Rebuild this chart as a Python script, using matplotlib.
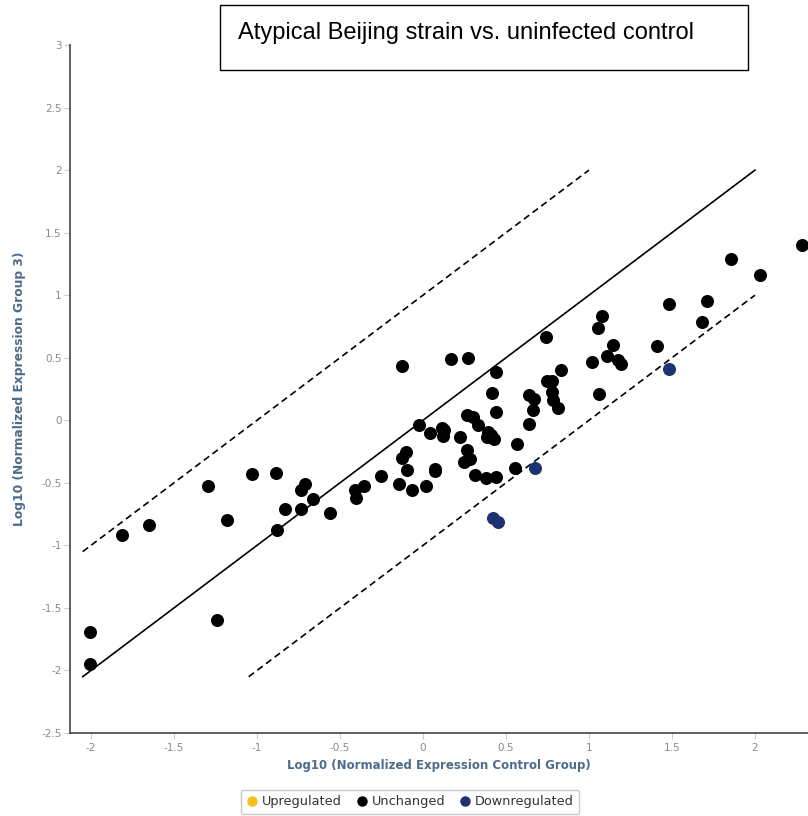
import numpy as np
import matplotlib
matplotlib.use("Agg")
import matplotlib.pyplot as plt
from matplotlib.lines import Line2D
from matplotlib.patches import Rectangle

# punkte ablesen (log10 kontrolle, log10 gruppe 3)
x_unchanged = [2.281, 1.853, 2.03, 1.709, 1.679, 1.484, 1.408, 1.078, 1.052, 1.147,
               1.107, 1.02, 1.173, 1.191, 1.062, 0.833, 0.745, 0.775, 0.779, 0.785,
               0.811, 0.739, 0.442, 0.416, 0.442, 0.639, 0.671, 0.665, 0.637, 0.564,
               0.552, -0.127, 0.167, 0.269, -0.022, 0.042, 0.113, 0.127, 0.118, 0.223,
               0.263, 0.299, 0.333, 0.393, 0.408, 0.428, 0.384, 0.263, 0.283, 0.249,
               0.313, 0.38, 0.44, 0.072, 0.072, -0.094, -0.102, -0.128, -0.253, -0.143,
               -0.068, 0.016, -0.355, -0.408, -0.404, -0.56, -0.66, -0.711, -0.737, -0.737,
               -0.831, -0.881, -0.886, -1.03, -1.297, -1.183, -1.239, -1.651, -1.811, -2.006,
               -2.006]
y_unchanged = [1.40, 1.293, 1.16, 0.955, 0.787, 0.928, 0.592, 0.832, 0.739, 0.605,
               0.512, 0.467, 0.48, 0.453, 0.21, 0.40, 0.315, 0.315, 0.227, 0.165,
               0.099, 0.667, 0.387, 0.216, 0.067, 0.20, 0.171, 0.085, -0.029, -0.192,
               -0.378, 0.435, 0.486, 0.496, -0.035, -0.10, -0.06, -0.08, -0.128, -0.133,
               0.04, 0.027, -0.04, -0.093, -0.12, -0.146, -0.133, -0.235, -0.306, -0.333,
               -0.44, -0.458, -0.453, -0.387, -0.405, -0.40, -0.253, -0.299, -0.448, -0.507,
               -0.56, -0.525, -0.525, -0.56, -0.619, -0.741, -0.627, -0.507, -0.56, -0.707,
               -0.712, -0.88, -0.419, -0.427, -0.523, -0.80, -1.60, -0.835, -0.92, -1.693,
               -1.952]
x_down = [1.48, 0.677, 0.424, 0.454]
y_down = [0.413, -0.379, -0.779, -0.813]

# referenzlinien
x_diag = [-2.05, 2.0]
x_upper = [-2.05, 1.0]
x_lower = [-1.05, 2.0]

x_ticks = [-2, -1.5, -1, -0.5, 0, 0.5, 1, 1.5, 2]
y_ticks = [-2.5, -2, -1.5, -1, -0.5, 0, 0.5, 1, 1.5, 2, 2.5, 3]

col_up = "#f5c21b"
col_unch = "#000000"
col_down = "#1e3270"
lab_col = "#4d6b8c"
tick_col = "#8a8a8a"

fig = plt.figure(figsize=(8.08, 8.16), dpi=100)
ax = fig.add_axes([70/808, 1-733/816, 738/808, 688/816])

ax.plot(x_diag, x_diag, color="black", lw=1.2)
ax.plot(x_upper, np.array(x_upper) + 1, color="black", lw=1.2, ls=(0, (4, 2.5)))
ax.plot(x_lower, np.array(x_lower) - 1, color="black", lw=1.2, ls=(0, (4, 2.5)))

ax.scatter(x_unchanged, y_unchanged, s=70, color=col_unch, zorder=3, clip_on=False)
ax.scatter(x_down, y_down, s=70, color=col_down, zorder=3)

ax.set_xlim(-2.1265, 2.3193)
ax.set_ylim(-2.5, 3)
ax.set_xticks(x_ticks)
ax.set_xticklabels([f"{t:g}" for t in x_ticks])
ax.set_yticks(y_ticks)
ax.set_yticklabels([f"{t:g}" for t in y_ticks])

for s in ["top", "right"]:
    ax.spines[s].set_visible(False)
for s in ["left", "bottom"]:
    ax.spines[s].set_color("#444444")
    ax.spines[s].set_linewidth(1.2)

ax.tick_params(axis="both", colors="#cccccc", labelcolor=tick_col, labelsize=7.5,
               length=4, width=0.8)
ax.tick_params(axis="y", pad=2)
ax.tick_params(axis="x", pad=3)

ax.set_xlabel("Log10 (Normalized Expression Control Group)", color=lab_col,
              fontsize=8.5, fontweight="bold", va="center")
ax.xaxis.set_label_coords(0.5, -32/688)
ax.set_ylabel("Log10 (Normalized Expression Group 3)", color=lab_col,
              fontsize=8.8, fontweight="bold", va="center")
ax.yaxis.set_label_coords(-50/738, 0.5)

handles = [Line2D([], [], ls="none", marker="o", markersize=6.5, color=c)
           for c in [col_up, col_unch, col_down]]
leg = ax.legend(handles, ["Upregulated", "Unchanged", "Downregulated"], ncol=3,
                loc="center", bbox_to_anchor=(410/808, 1-802/816),
                bbox_transform=fig.transFigure, frameon=True, fancybox=True,
                fontsize=9.3, handletextpad=0.3, columnspacing=1.1,
                handlelength=0.9, borderpad=0.45)
leg.get_frame().set_edgecolor("#bbbbbb")
leg.get_frame().set_linewidth(1.0)
for t in leg.get_texts():
    t.set_color("#333333")

# titelkasten
fig.patches.append(Rectangle((220/808, 1-70/816), 528/808, 65/816,
                             transform=fig.transFigure, fill=False,
                             edgecolor="black", lw=1.0))
fig.text(238/808, 1-33/816, "Atypical Beijing strain vs. uninfected control",
         fontsize=17, family="Liberation Sans", va="center", ha="left")

fig.savefig("out.png", dpi=100)
